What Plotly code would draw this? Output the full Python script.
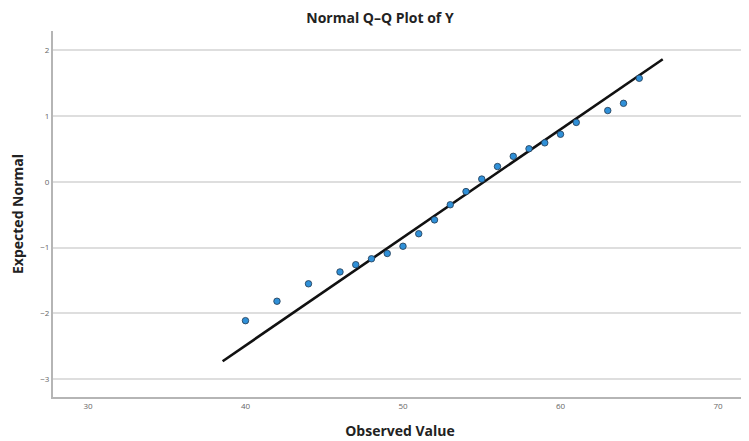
import plotly.graph_objects as go

observed = [40, 42, 44, 46, 47, 48, 49, 50, 51, 52, 53, 54, 55, 56, 57, 58, 59, 60, 61, 63, 64, 65]
expected = [-2.11, -1.815, -1.55, -1.37, -1.26, -1.17, -1.09, -0.98, -0.79, -0.58, -0.35, -0.15,
            0.04, 0.23, 0.385, 0.50, 0.59, 0.72, 0.90, 1.08, 1.19, 1.57]

# Reference line: expected = (x - mean) / sd
line_mean = 55.16
line_sd = 6.094
line_x = [38.55, 66.49]
line_y = [(v - line_mean) / line_sd for v in line_x]

x_ticks = [30, 40, 50, 60, 70]
y_ticks = [-3, -2, -1, 0, 1, 2]

FONT = "Open Sans"
W, H = 741, 433  # page body has an 8px margin

fig = go.Figure()
fig.add_trace(go.Scatter(
    x=line_x, y=line_y, mode="lines",
    line=dict(color="#111111", width=2.6),
    showlegend=False, hoverinfo="skip"))
fig.add_trace(go.Scatter(
    x=observed, y=expected, mode="markers",
    marker=dict(size=6.5, color="#2f90d8", line=dict(color="#23384f", width=0.8)),
    showlegend=False))

fig.update_layout(
    width=W, height=H,
    margin=dict(l=45, r=2, t=23, b=44),
    paper_bgcolor="white", plot_bgcolor="white",
    font=dict(family=FONT, color="#222"),
    title=dict(text="<b>Normal Q–Q Plot of Y</b>", x=372 / W, xanchor="center",
               y=1 - 10 / H, yanchor="middle", yref="container",
               font=dict(size=14, color="#222", family=FONT)),
    xaxis=dict(range=[27.78, 71.84], tickvals=x_ticks, showgrid=False, zeroline=False,
               showline=True, linecolor="#b5b5b5", linewidth=2, ticks="",
               tickfont=dict(size=8, color="#666"),
               title=dict(text="<b>Observed Value</b>", font=dict(size=14, color="#222"), standoff=17)),
    yaxis=dict(range=[-3.269, 2.288], tickvals=y_ticks, showgrid=True, gridcolor="#dedede",
               gridwidth=1.5, zeroline=False, showline=True, linecolor="#b5b5b5", linewidth=2,
               ticks="", tickfont=dict(size=8, color="#666"),
               title=dict(text="<b>Expected Normal</b>", font=dict(size=14, color="#222"), standoff=16)),
)

fig.write_html("out.html")
